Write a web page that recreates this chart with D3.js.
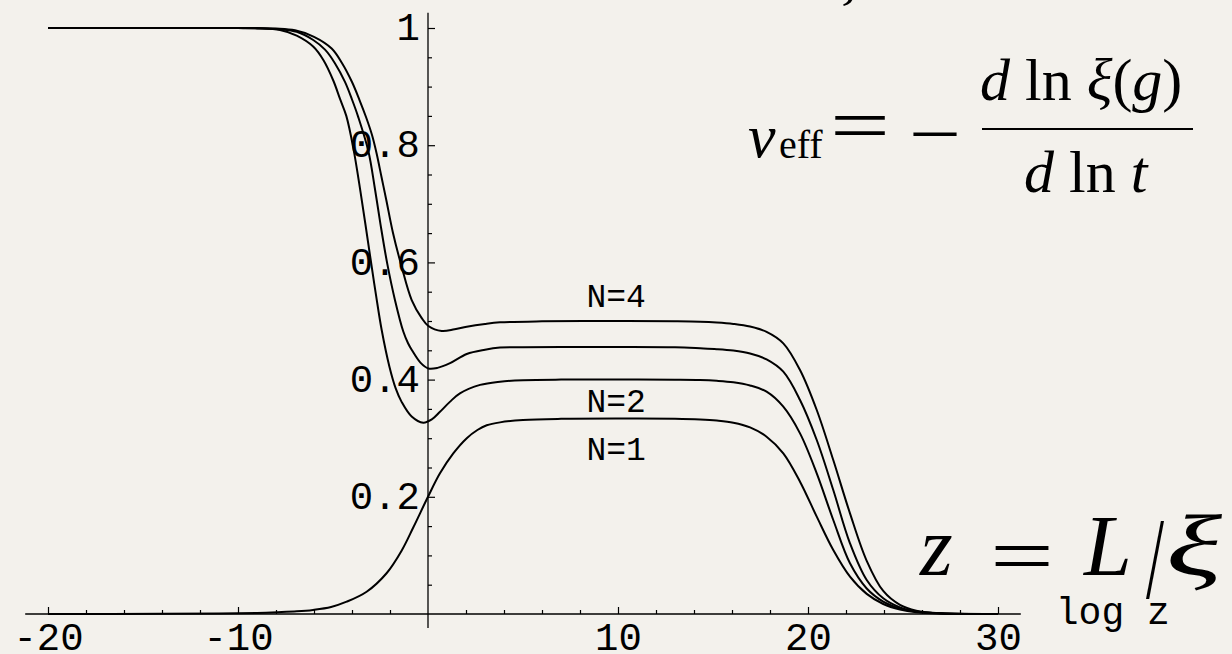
<!DOCTYPE html>
<html>
<head>
<meta charset="utf-8">
<script src="https://cdn.jsdelivr.net/npm/d3@7"></script>
<style>
  html, body { margin: 0; padding: 0; background: #f3f1ec; }
  svg { display: block; }
</style>
</head>
<body>
<svg id="chart" width="1232" height="654"></svg>
<script>
// Effective exponent nu_eff versus log z for N = 1..4 (pairs of [log z, nu_eff])
const nuN1 = [[-20,0],[-14,0.0003],[-11,0.001],[-9,0.0018],[-7.9,0.003],[-6.9,0.0045],[-6.05,0.007],[-5.1,0.012],[-4.28,0.021],[-3.23,0.038],[-2.17,0.07],[-1.39,0.108],[-0.77,0.148],[0,0.2],[0.63,0.24],[1.33,0.274],[2.04,0.3],[2.6,0.314],[3.09,0.322],[3.79,0.327],[5,0.331],[7,0.333],[10,0.3335],[13,0.333],[14.32,0.3318],[15.2,0.33],[16.07,0.3265],[16.95,0.3185],[17.82,0.3026],[18.7,0.2742],[19.58,0.2258],[20.46,0.1661],[21.33,0.1092],[22.21,0.0637],[23.09,0.0343],[23.96,0.0171],[24.84,0.0076],[25.7,0.003],[27,0.0008],[30,0]];
const nuN2 = [[-20,1],[-12,1],[-10,0.9998],[-9,0.9993],[-7.79,0.9966],[-6.91,0.987],[-6.03,0.968],[-5.5,0.945],[-4.98,0.91],[-4.63,0.879],[-4.3,0.85],[-3.93,0.795],[-3.55,0.72],[-3.02,0.605],[-2.74,0.545],[-2.44,0.485],[-2.03,0.422],[-1.7,0.385],[-1.39,0.362],[-0.86,0.337],[-0.25,0.3265],[0.2,0.332],[0.63,0.345],[1.15,0.362],[1.68,0.3765],[2.74,0.391],[3.79,0.3965],[5,0.399],[7,0.4],[10,0.4],[13,0.3998],[14.32,0.3993],[15.2,0.398],[16.07,0.3955],[16.95,0.39],[17.82,0.3794],[18.7,0.3538],[19.58,0.3083],[20.46,0.2401],[21.33,0.1604],[22.21,0.0865],[23.09,0.0436],[23.96,0.0212],[24.84,0.0093],[25.7,0.0037],[27,0.001],[30,0]];
const nuN3 = [[-20,1],[-12,1],[-10,0.9999],[-9,0.9997],[-7.79,0.998],[-6.91,0.9935],[-6.04,0.9795],[-5.42,0.963],[-4.9,0.94],[-4.37,0.908],[-4.0,0.878],[-3.67,0.848],[-3.14,0.79],[-2.8,0.727],[-2.5,0.665],[-2.14,0.597],[-1.74,0.536],[-1.3,0.482],[-1.05,0.462],[-0.86,0.451],[-0.4,0.429],[0.02,0.419],[0.5,0.42],[1.16,0.428],[2.04,0.4437],[3,0.451],[3.79,0.4546],[5,0.4552],[7,0.4555],[10,0.4555],[13,0.455],[14.32,0.4534],[15.2,0.452],[16.07,0.4495],[16.95,0.4445],[17.82,0.4345],[18.7,0.4135],[19.58,0.3652],[20.46,0.2969],[21.33,0.2116],[22.21,0.1206],[23.09,0.058],[23.96,0.0269],[24.84,0.0114],[25.7,0.0045],[27,0.0011],[30,0]];
const nuN4 = [[-20,1],[-12,1],[-10,1],[-9,0.9998],[-8,0.999],[-7,0.996],[-6,0.985],[-5.07,0.965],[-4.53,0.9403],[-4.0,0.9078],[-3.605,0.8771],[-3.263,0.8481],[-2.947,0.8174],[-2.71,0.7867],[-2.447,0.7457],[-2.195,0.7065],[-1.842,0.6502],[-1.389,0.593],[-0.858,0.5358],[-0.33,0.505],[0.02,0.4915],[0.72,0.483],[1.4,0.486],[2.04,0.4903],[3,0.495],[3.79,0.4977],[6,0.4995],[10,0.5],[13,0.4996],[14.32,0.4989],[15.2,0.4975],[16.07,0.495],[16.95,0.4905],[17.82,0.4815],[18.7,0.4619],[19.58,0.4164],[20.46,0.3481],[21.33,0.2628],[22.21,0.1718],[23.09,0.0908],[23.96,0.0393],[24.84,0.0156],[25.7,0.0058],[27,0.0013],[30,0]];

const seriesList = [nuN1, nuN2, nuN3, nuN4];

// Curve labels: text, log z, nu_eff of the text baseline
const curveLabels = [["N=4", 9.9, 0.524], ["N=2", 9.9, 0.3447], ["N=1", 9.9, 0.2628]];

// Axis ticks and extents
const xDomain = [-20, 30];
const yDomain = [0, 1];
const xMajorTicks = [-20, -10, 10, 20, 30];
const xMinorTicks = [-18,-16,-14,-12,-8,-6,-4,-2,2,4,6,8,12,14,16,18,22,24,26,28];
const yMajorTicks = [0.2, 0.4, 0.6, 0.8, 1];
const yMinorTicks = [0.05,0.1,0.15,0.25,0.3,0.35,0.45,0.5,0.55,0.65,0.7,0.75,0.85,0.9,0.95];
const xAxisSpan = [-21.2, 31.2];
const yAxisSpan = [-0.024, 1.026];
const xAxisTitle = "log z";

const W = 1232, H = 654;
const svg = d3.select("#chart");
svg.append("rect").attr("width", W).attr("height", H).attr("fill", "#f3f1ec");

const x = d3.scaleLinear().domain(xDomain).range([48, 998]);
const y = d3.scaleLinear().domain(yDomain).range([614, 28]);

const ink = "#000";
const tickFont = "'Liberation Mono', 'Courier New', monospace";
const mathFont = "'Liberation Serif', 'Times New Roman', serif";

// ---- x axis ----
const gx = svg.append("g").attr("transform", `translate(0,${y(0)})`);
gx.append("line")
  .attr("x1", x(xAxisSpan[0])).attr("x2", x(xAxisSpan[1]))
  .attr("stroke", ink).attr("stroke-width", 1.3);
gx.append("g").call(d3.axisBottom(x).tickValues(xMinorTicks).tickSizeInner(-4).tickSizeOuter(0).tickFormat(""))
  .call(g => g.select(".domain").remove());
gx.append("g").call(d3.axisBottom(x).tickValues(xMajorTicks).tickSizeInner(-7).tickSizeOuter(0).tickFormat(d => String(d).replace("−", "-")))
  .call(g => g.select(".domain").remove())
  .call(g => g.selectAll("text").attr("y", 36).attr("dy", null)
    .attr("font-family", tickFont).attr("font-size", 39).attr("fill", ink));
gx.selectAll(".tick line").attr("stroke", ink).attr("stroke-width", 1.2);

// ---- y axis ----
const gy = svg.append("g").attr("transform", `translate(${x(0)},0)`);
gy.append("line")
  .attr("y1", y(yAxisSpan[0])).attr("y2", y(yAxisSpan[1]))
  .attr("stroke", ink).attr("stroke-width", 1.3);
gy.append("g").call(d3.axisLeft(y).tickValues(yMinorTicks).tickSizeInner(-4).tickSizeOuter(0).tickFormat(""))
  .call(g => g.select(".domain").remove());
gy.append("g").call(d3.axisLeft(y).tickValues(yMajorTicks).tickSizeInner(-7).tickSizeOuter(0).tickFormat(d => d === 1 ? "1" : d3.format(".1f")(d)))
  .call(g => g.select(".domain").remove())
  .call(g => g.selectAll("text").attr("x", -8).attr("dy", "0.3em")
    .attr("font-family", tickFont).attr("font-size", 39).attr("fill", ink));
gy.selectAll(".tick line").attr("stroke", ink).attr("stroke-width", 1.2);

// ---- curves ----
const line = d3.line().x(d => x(d[0])).y(d => y(d[1])).curve(d3.curveCatmullRom.alpha(0.5));
svg.append("g").selectAll("path").data(seriesList).join("path")
  .attr("d", line)
  .attr("fill", "none").attr("stroke", ink).attr("stroke-width", 2)
  .attr("stroke-linejoin", "round");

// ---- curve labels ----
svg.append("g").selectAll("text").data(curveLabels).join("text")
  .attr("x", d => x(d[1])).attr("y", d => y(d[2]))
  .attr("text-anchor", "middle")
  .attr("font-family", tickFont).attr("font-size", 33).attr("fill", ink)
  .text(d => d[0]);

// ---- axis title ----
svg.append("text").attr("x", x(xAxisSpan[1]) + 35).attr("y", 624)
  .attr("font-family", tickFont).attr("font-size", 38).attr("fill", ink)
  .text(xAxisTitle);

// ---- formulas ----
function mtext(t, px, py, size, opts = {}) {
  const el = svg.append("text").attr("x", px).attr("y", py)
    .attr("font-family", opts.family || mathFont).attr("font-size", size)
    .attr("fill", ink).text(t);
  if (opts.italic) el.attr("font-style", "italic");
  if (opts.len) el.attr("textLength", opts.len).attr("lengthAdjust", "spacingAndGlyphs");
  return el;
}

// descender of a glyph cut by the top edge
mtext("ξ", 830, -4, 60, { italic: true });

// nu_eff = - d ln xi(g) / d ln t
mtext("ν", 748, 157, 62, { italic: true });
mtext("eff", 779, 158, 40);
mtext("=", 830, 151, 76, { len: 60 });
mtext("–", 914, 151, 72, { len: 42 });
svg.append("line").attr("x1", 982).attr("x2", 1193).attr("y1", 129).attr("y2", 129)
  .attr("stroke", ink).attr("stroke-width", 2);
const num = svg.append("text").attr("x", 980).attr("y", 100)
  .attr("font-family", mathFont).attr("font-size", 60).attr("fill", ink);
num.append("tspan").attr("font-style", "italic").text("d");
num.append("tspan").text(" ln ");
num.append("tspan").attr("font-style", "italic").text("ξ");
num.append("tspan").text("(");
num.append("tspan").attr("font-style", "italic").text("g");
num.append("tspan").text(")");
const den = svg.append("text").attr("x", 1024).attr("y", 192)
  .attr("font-family", mathFont).attr("font-size", 60).attr("fill", ink);
den.append("tspan").attr("font-style", "italic").text("d");
den.append("tspan").text(" ln ");
den.append("tspan").attr("font-style", "italic").text("t");

// z = L / xi
mtext("z", 920, 575, 84, { italic: true });
mtext("=", 990, 583, 80, { len: 64 });
mtext("L", 1084, 575, 86, { italic: true });
mtext("/", 1146, 598, 116, { len: 18 });
mtext("ξ", 1166, 575, 86, { italic: true, len: 56 });
</script>
</body>
</html>
